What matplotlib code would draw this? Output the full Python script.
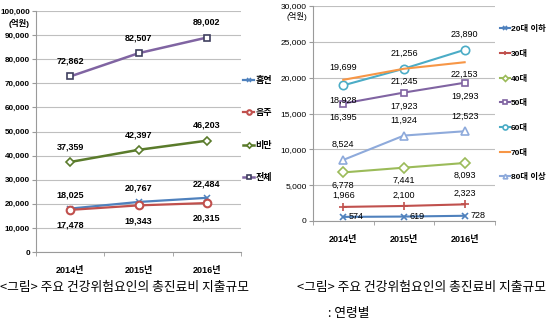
import matplotlib.pyplot as plt
from matplotlib.ticker import FuncFormatter

plt.rcParams['font.family'] = ['Liberation Sans', 'Noto Sans CJK KR', 'DejaVu Sans']

years = ['2014년', '2015년', '2016년']

# left chart: by risk factor (억원)
smoking = [18025, 20767, 22484]
drinking = [17478, 19343, 20315]
obesity = [37359, 42397, 46203]
total = [72862, 82507, 89002]

# right chart: by age group (억원)
age_20 = [574, 619, 728]
age_30 = [1966, 2100, 2323]
age_40 = [6778, 7441, 8093]
age_50 = [16395, 17923, 19293]
age_60 = [18928, 21256, 23890]
age_70 = [19699, 21245, 22153]
age_80 = [8524, 11924, 12523]

caption = '<그림> 주요 건강위험요인의 총진료비 지출규모'

fig = plt.figure(figsize=(5.5, 3.23), dpi=100)
grid_c = '#bfbfbf'
fmt = FuncFormatter(lambda v, p: f'{int(v):,}')


def style_axes(ax, ymax, step, ysize):
    ax.set_xlim(-0.5, 2.5)
    ax.set_ylim(0, ymax)
    ax.set_yticks(range(0, ymax + 1, step))
    ax.yaxis.set_major_formatter(fmt)
    ax.grid(axis='y', color=grid_c, linewidth=0.8)
    ax.set_axisbelow(True)
    for s in ['top', 'right']:
        ax.spines[s].set_visible(False)
    ax.spines['left'].set_color('#9a9a9a')
    ax.spines['bottom'].set_color('#9a9a9a')
    ax.set_xticks([0, 1, 2])
    ax.set_xticklabels(years, fontsize=6.5, fontweight='bold')
    ax.set_xticks([-0.5, 0.5, 1.5, 2.5], minor=True)
    ax.tick_params(axis='x', which='major', length=0, pad=10)
    ax.tick_params(axis='x', which='minor', length=3, color='#9a9a9a')
    ax.tick_params(axis='y', length=3, color='#9a9a9a', labelsize=ysize, pad=1.5)
    for t in ax.get_yticklabels():
        t.set_fontweight('bold')


def labels(ax, vals, offs, weight='bold', dx=0, ha='center'):
    for i, (v, o) in enumerate(zip(vals, offs)):
        ax.annotate(f'{v:,}', (i, v), xytext=(dx, o), textcoords='offset points',
                    ha=ha, va='center', fontsize=6.5, fontweight=weight)


# ---- left chart
ax1 = fig.add_axes([0.0655, 0.2198, 0.3727, 0.746])
style_axes(ax1, 100000, 10000, 5.8)
xs = [0, 1, 2]
ax1.plot(xs, smoking, color='#4f81bd', marker='x', ms=4, mew=1.1, lw=1.6, label='흡연')
ax1.plot(xs, drinking, color='#c0504d', marker='o', ms=5.5, mfc='white', mew=1.5, lw=1.6, label='음주')
ax1.plot(xs, obesity, color='#5a7b2b', marker='D', ms=4.5, mfc='white', mew=1.2, lw=1.8, label='비만')
ax1.plot(xs, total, color='#8064a2', marker='s', ms=5, mfc='white', mec='#3f3f5f', mew=1.2, lw=1.8, label='전체')
labels(ax1, total, [11, 11, 11])
labels(ax1, obesity, [11, 11, 11])
labels(ax1, smoking, [10, 10, 10])
labels(ax1, drinking, [-11, -11, -11])
ax1.text(-0.03, 0.95, '(억원)', transform=ax1.transAxes, ha='right', va='center',
         fontsize=6, fontweight='bold')
ax1.legend(loc='upper left', bbox_to_anchor=(0.99, 0.75), frameon=False,
           handlelength=1.2, handletextpad=0.1, labelspacing=2.6, borderpad=0,
           markerscale=0.6, prop={'weight': 'bold', 'size': 6.5})
fig.text(0.0, 1 - 287 / 323, caption, ha='left', va='center', fontsize=9.2,
         family=['Noto Sans CJK KR'])

# ---- right chart
ax2 = fig.add_axes([0.569, 0.3158, 0.331, 0.6656])
style_axes(ax2, 30000, 5000, 6)
for t in ax2.get_yticklabels():
    t.set_fontweight('normal')
ax2.plot(xs, age_20, color='#4f81bd', marker='x', ms=4, mew=1.2, lw=1.5, label='20대 이하')
ax2.plot(xs, age_30, color='#c0504d', marker='+', ms=6, mew=1.2, lw=1.5, label='30대')
ax2.plot(xs, age_40, color='#9bbb59', marker='D', ms=5, mfc='white', mew=1.2, lw=1.5, label='40대')
ax2.plot(xs, age_50, color='#8064a2', marker='s', ms=5, mfc='white', mew=1.2, lw=1.5, label='50대')
ax2.plot(xs, age_60, color='#4bacc6', marker='o', ms=6, mfc='white', mew=1.2, lw=1.5, label='60대')
ax2.plot(xs, age_70, color='#f79646', lw=1.5, label='70대')
ax2.plot(xs, age_80, color='#8eaadb', marker='^', ms=5.5, mfc='white', mew=1.2, lw=1.5, label='80대 이상')
labels(ax2, age_20, [0, 0, 0], weight='normal', dx=4, ha='left')
labels(ax2, age_30, [8, 8, 8], weight='normal')
labels(ax2, age_40, [-9, -9, -9], weight='normal')
labels(ax2, age_50, [-10, -10, -10], weight='normal')
labels(ax2, age_60, [-11, 11, 11], weight='normal')
labels(ax2, age_70, [9, -9, -9], weight='normal')
labels(ax2, age_80, [11, 11, 11], weight='normal')
ax2.text(-0.03, 0.95, '(억원)', transform=ax2.transAxes, ha='right', va='center',
         fontsize=6)
ax2.legend(loc='upper left', bbox_to_anchor=(1.005, 0.93), frameon=False,
           handlelength=1.2, handletextpad=0.1, labelspacing=2.0, borderpad=0,
           markerscale=0.6, prop={'weight': 'bold', 'size': 6})
fig.text(297 / 550, 1 - 287 / 323, caption, ha='left', va='center', fontsize=9.2,
         family=['Noto Sans CJK KR'])
fig.text(328 / 550, 1 - 313 / 323, ': 연령별', ha='left', va='center', fontsize=9.2,
         family=['Noto Sans CJK KR'])

fig.savefig('out.png', dpi=100)
